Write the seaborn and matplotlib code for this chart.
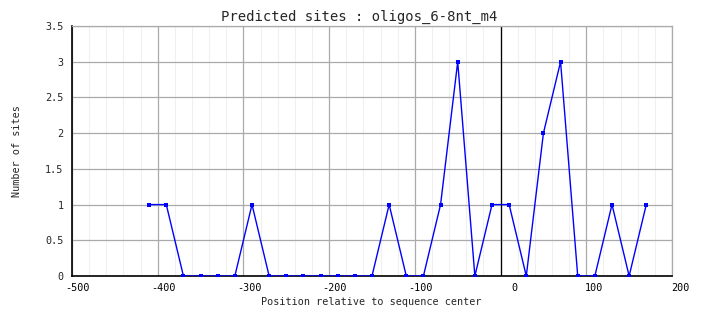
import matplotlib
matplotlib.use("Agg")
import matplotlib.pyplot as plt
import matplotlib.transforms as mtransforms
import numpy as np
import pandas as pd
import seaborn as sns

# Data
positions = [-410, -390, -370, -350, -330, -310, -290, -270, -250, -230,
             -210, -190, -170, -150, -130, -110, -90, -70, -50, -30,
             -10, 10, 30, 50, 70, 90, 110, 130, 150, 170]
sites = [1, 1, 0, 0, 0, 0, 1, 0, 0, 0,
         0, 0, 0, 0, 1, 0, 0, 1, 3, 0,
         1, 1, 0, 2, 3, 0, 0, 1, 0, 1]
x_ticks = [-500, -400, -300, -200, -100, 0, 100, 200]
x_tick_labels = ["-500", "-400", "-300", "-200", "-100", "0", "100", "200"]
y_ticks = [0, 0.5, 1, 1.5, 2, 2.5, 3, 3.5]
y_tick_labels = ["0", "0.5", "1", "1.5", "2", "2.5", "3", "3.5"]
title = "Predicted sites : oligos_6-8nt_m4"
xlabel = "Position relative to sequence center"
ylabel = "Number of sites"

df = pd.DataFrame({"pos": positions, "n": sites})

sns.set_theme(style="white")
plt.rcParams["font.family"] = ["DejaVu Sans Mono"]

W, H = 704, 328
fig = plt.figure(figsize=(W / 100, H / 100), dpi=100)
ax = fig.add_axes([72 / W, (H - 276) / H, 600 / W, 250 / H])

ax.set_xlim(-500, 200)
ax.set_ylim(0, 3.5)

# minor grid every 20
ax.set_xticks(np.arange(-500, 201, 20), minor=True)
ax.grid(True, which="minor", axis="x", color="#f0f0f0", linewidth=0.75)
ax.set_xticks(x_ticks)
ax.set_yticks(y_ticks)
ax.grid(True, which="major", color="#aaaaaa", linewidth=0.9)
ax.set_axisbelow(True)

sns.lineplot(data=df, x="pos", y="n", ax=ax, color="#0000ff", linewidth=1,
             marker="s", markersize=3, markeredgewidth=0, zorder=3)
ax.axvline(0, color="black", linewidth=0.9, zorder=2)

ax.set_yticklabels(y_tick_labels, fontsize=7.3)
ax.tick_params(axis="both", length=0)
ax.tick_params(axis="y", pad=6)
ax.set_xticklabels([])
# x tick labels: digits start at tick, minus sign hangs to the left
for t, lab in zip(x_ticks, x_tick_labels):
    if t < 0:
        dx = -6.5
    elif t == 0:
        dx = 11
    else:
        dx = -1
    off = mtransforms.offset_copy(ax.get_xaxis_transform(), fig=fig, x=dx * 0.72, y=-7 * 0.72, units="points")
    ax.text(t, 0, lab, transform=off, ha="left", va="top", fontsize=7.3, color="black")

ax.set_xlabel("")
ax.set_ylabel("")
fig.text(371 / W, 1 - 302 / H, xlabel, ha="center", va="center", fontsize=7.3)
fig.text(17 / W, 1 - 151 / H, ylabel, ha="center", va="center", rotation=90, fontsize=7.3)
fig.text(359 / W, 1 - 17 / H, title, ha="center", va="center", fontsize=10)

for s in ["left", "bottom"]:
    ax.spines[s].set_color("black")
    ax.spines[s].set_linewidth(1.2)
for s in ["top", "right"]:
    ax.spines[s].set_color("#aaaaaa")
    ax.spines[s].set_linewidth(0.9)

fig.savefig("out.png", dpi=100, facecolor="white")
